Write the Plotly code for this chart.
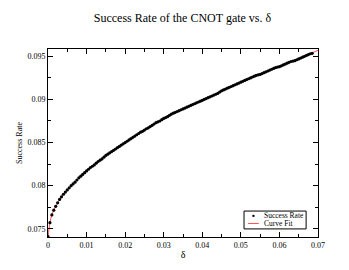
import plotly.graph_objects as go

delta = [0.0000, 0.0005, 0.0010, 0.0015, 0.0020, 0.0025, 0.0030, 0.0035, 0.0040, 0.0045,
         0.0050, 0.0055, 0.0060, 0.0065, 0.0070, 0.0075, 0.0080, 0.0085, 0.0090, 0.0095,
         0.0100, 0.0105, 0.0110, 0.0115, 0.0120, 0.0125, 0.0130, 0.0135, 0.0140, 0.0145,
         0.0150, 0.0155, 0.0160, 0.0165, 0.0170, 0.0175, 0.0180, 0.0185, 0.0190, 0.0195,
         0.0200, 0.0205, 0.0210, 0.0215, 0.0220, 0.0225, 0.0230, 0.0235, 0.0240, 0.0245,
         0.0250, 0.0255, 0.0260, 0.0265, 0.0270, 0.0275, 0.0280, 0.0285, 0.0290, 0.0295,
         0.0300, 0.0305, 0.0310, 0.0315, 0.0320, 0.0325, 0.0330, 0.0335, 0.0340, 0.0345,
         0.0350, 0.0355, 0.0360, 0.0365, 0.0370, 0.0375, 0.0380, 0.0385, 0.0390, 0.0395,
         0.0400, 0.0405, 0.0410, 0.0415, 0.0420, 0.0425, 0.0430, 0.0435, 0.0440, 0.0445,
         0.0450, 0.0455, 0.0460, 0.0465, 0.0470, 0.0475, 0.0480, 0.0485, 0.0490, 0.0495,
         0.0500, 0.0505, 0.0510, 0.0515, 0.0520, 0.0525, 0.0530, 0.0535, 0.0540, 0.0545,
         0.0550, 0.0555, 0.0560, 0.0565, 0.0570, 0.0575, 0.0580, 0.0585, 0.0590, 0.0595,
         0.0600, 0.0605, 0.0610, 0.0615, 0.0620, 0.0625, 0.0630, 0.0635, 0.0640, 0.0645,
         0.0650, 0.0655, 0.0660, 0.0665, 0.0670, 0.0675, 0.0680, 0.0685]
success_rate = [0.07410, 0.07570, 0.07660, 0.07715, 0.07760, 0.07800, 0.07840, 0.07870, 0.07900, 0.07925,
                0.07950, 0.07975, 0.08000, 0.08020, 0.08040, 0.08065, 0.08090, 0.08110, 0.08130, 0.08150,
                0.08170, 0.08190, 0.08210, 0.08225, 0.08240, 0.08260, 0.08280, 0.08295, 0.08310, 0.08330,
                0.08350, 0.08365, 0.08380, 0.08395, 0.08410, 0.08425, 0.08440, 0.08455, 0.08470, 0.08485,
                0.08500, 0.08515, 0.08530, 0.08545, 0.08560, 0.08575, 0.08590, 0.08605, 0.08620, 0.08630,
                0.08645, 0.08660, 0.08670, 0.08685, 0.08700, 0.08715, 0.08730, 0.08740, 0.08750, 0.08765,
                0.08780, 0.08790, 0.08800, 0.08815, 0.08830, 0.08840, 0.08850, 0.08860, 0.08870, 0.08880,
                0.08890, 0.08900, 0.08910, 0.08920, 0.08930, 0.08940, 0.08950, 0.08960, 0.08970, 0.08980,
                0.08990, 0.09000, 0.09010, 0.09020, 0.09030, 0.09040, 0.09050, 0.09060, 0.09070, 0.09085,
                0.09100, 0.09110, 0.09120, 0.09130, 0.09140, 0.09150, 0.09160, 0.09170, 0.09180, 0.09190,
                0.09200, 0.09210, 0.09220, 0.09230, 0.09240, 0.09250, 0.09260, 0.09270, 0.09280, 0.09285,
                0.09290, 0.09300, 0.09310, 0.09320, 0.09330, 0.09340, 0.09350, 0.09360, 0.09370, 0.09375,
                0.09380, 0.09390, 0.09400, 0.09410, 0.09420, 0.09430, 0.09440, 0.09445, 0.09450, 0.09460,
                0.09470, 0.09480, 0.09490, 0.09500, 0.09510, 0.09520, 0.09530, 0.09535]

fit_delta = [0, 0.0005, 0.001, 0.002, 0.004, 0.007, 0.010, 0.015, 0.020, 0.030,
             0.040, 0.050, 0.060, 0.070]
fit_rate = [0.0740, 0.0757, 0.0766, 0.0776, 0.0790, 0.0804, 0.0817, 0.0835, 0.0850, 0.0878,
            0.0899, 0.0920, 0.0938, 0.0957]

x_ticks = [0, 0.01, 0.02, 0.03, 0.04, 0.05, 0.06, 0.07]
x_labels = ["0", "0.01", "0.02", "0.03", "0.04", "0.05", "0.06", "0.07"]
y_ticks = [0.075, 0.08, 0.085, 0.09, 0.095]
y_labels = ["0.075", "0.08", "0.085", "0.09", "0.095"]

font = "Liberation Serif, Times New Roman, serif"

fig = go.Figure()
fig.add_trace(go.Scatter(x=fit_delta, y=fit_rate, mode="lines", name="Curve Fit",
                         line=dict(color="#ff5050", width=1, shape="spline")))
fig.add_trace(go.Scatter(x=delta, y=success_rate, mode="markers", name="Success Rate",
                         marker=dict(color="black", size=3.2, symbol="circle")))

axis_common = dict(showline=True, linecolor="black", linewidth=1, mirror="ticks",
                   ticks="inside", ticklen=5, tickcolor="black", showgrid=False,
                   zeroline=False, tickfont=dict(family=font, size=8, color="#000000"))

fig.update_xaxes(range=[0, 0.07], tickvals=x_ticks, ticktext=x_labels,
                 minor=dict(ticks="inside", ticklen=3, dtick=0.005, tickcolor="black", showgrid=False),
                 title=dict(text="δ", font=dict(family=font, size=10, color="#000000"), standoff=2),
                 **axis_common)
fig.update_yaxes(range=[0.07404, 0.09585], tickvals=y_ticks, ticktext=y_labels,
                 minor=dict(ticks="inside", ticklen=3, dtick=0.0025, tick0=0.075, tickcolor="black", showgrid=False),
                 title=dict(text="Success Rate", font=dict(family=font, size=8, color="#000000"), standoff=3),
                 **axis_common)

# compact legend box drawn in the plot-area paper coordinates
fig.add_shape(type="rect", xref="paper", yref="paper", x0=0.726, x1=0.956, y0=0.043, y1=0.138,
              line=dict(color="black", width=1), fillcolor="white", layer="above")
fig.add_shape(type="line", xref="paper", yref="paper", x0=0.741, x1=0.781, y0=0.072, y1=0.072,
              line=dict(color="#ff5050", width=1), layer="above")
fig.add_shape(type="circle", xref="paper", yref="paper", x0=0.7565, x1=0.7655, y0=0.106, y1=0.118,
              line=dict(color="black", width=0), fillcolor="black", layer="above")
fig.add_annotation(xref="paper", yref="paper", x=0.793, y=0.112, text="Success Rate",
                   showarrow=False, xanchor="left", yanchor="middle",
                   font=dict(family=font, size=7.5, color="black"))
fig.add_annotation(xref="paper", yref="paper", x=0.793, y=0.072, text="Curve Fit",
                   showarrow=False, xanchor="left", yanchor="middle",
                   font=dict(family=font, size=7.5, color="black"))

fig.update_layout(
    width=349, height=270,
    margin=dict(l=40, r=39, t=41, b=41),
    paper_bgcolor="white", plot_bgcolor="white",
    title=dict(text="Success Rate of the CNOT gate vs. δ", x=0.5, xanchor="center",
               y=0.962, yanchor="middle", font=dict(family=font, size=12, color="black")),
    showlegend=False,
)

fig.write_html("out.html")
